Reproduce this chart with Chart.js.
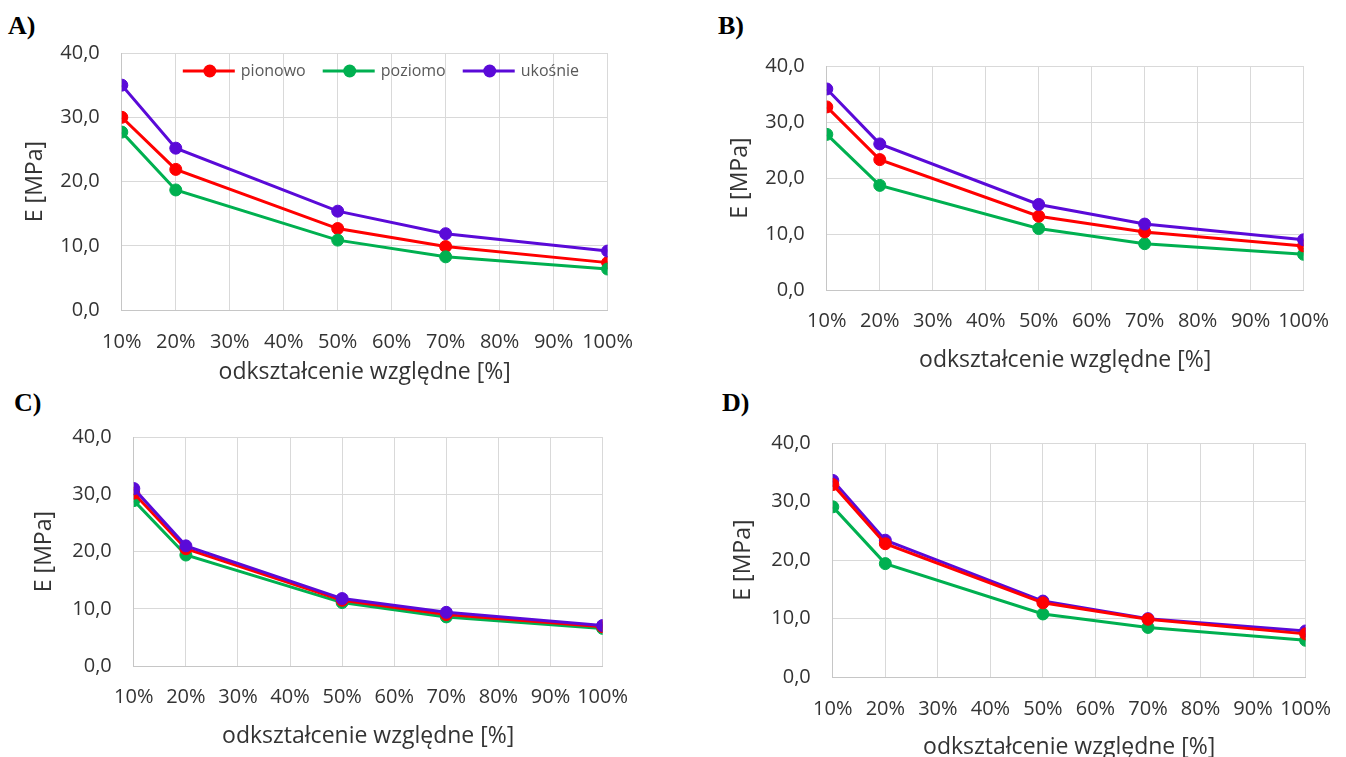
<!DOCTYPE html>
<html><head><meta charset="utf-8">
<script src="https://cdn.jsdelivr.net/npm/chart.js@4.4.1/dist/chart.umd.min.js"></script>
<style>
html,body{margin:0;padding:0;background:#fff;width:1346px;height:757px;overflow:hidden;position:relative;font-family:"Open Sans",sans-serif}
canvas{position:absolute}
.tag{position:absolute;font-family:"Liberation Serif",serif;font-weight:bold;font-size:26px;line-height:26px;color:#000}
</style></head><body>
<div class="tag" style="left:8px;top:13px">A)</div>
<div class="tag" style="left:718px;top:13px">B)</div>
<div class="tag" style="left:14px;top:390px">C)</div>
<div class="tag" style="left:722px;top:390px">D)</div>
<script>
// ---- data ----
const strain = [10, 20, 50, 70, 100];           // odkształcenie względne [%]
const seriesNames = ['pionowo', 'poziomo', 'ukośnie'];
const xTickValues = [10, 20, 30, 40, 50, 60, 70, 80, 90, 100];
const yTickValues = [0, 10, 20, 30, 40];
const xTitle = 'odkształcenie względne [%]';
const yTitle = 'E [MPa]';

const A_pionowo = [30.0, 21.9, 12.7, 9.9, 7.4];
const A_poziomo = [27.7, 18.7, 10.9, 8.3, 6.4];
const A_ukosnie = [35.0, 25.2, 15.4, 11.9, 9.2];

const B_pionowo = [32.7, 23.3, 13.2, 10.4, 7.9];
const B_poziomo = [27.8, 18.7, 11.0, 8.3, 6.4];
const B_ukosnie = [35.9, 26.1, 15.3, 11.8, 9.0];

const C_pionowo = [30.2, 20.5, 11.5, 9.0, 6.9];
const C_poziomo = [28.9, 19.4, 11.1, 8.6, 6.6];
const C_ukosnie = [31.0, 21.0, 11.8, 9.4, 7.1];

const D_pionowo = [32.9, 22.8, 12.7, 9.9, 7.4];
const D_poziomo = [29.1, 19.4, 10.8, 8.5, 6.3];
const D_ukosnie = [33.6, 23.4, 13.0, 10.0, 7.9];

// ---- styles ----
const colors = ['#ff0000', '#00b050', '#5a0ad8'];
const FONT = '"Open Sans", sans-serif';
const TITLE_SIZE = 23, TICK_SIZE = 20;

// panel geometry (plot area edges, title/tick centres)
const geom = {
  A: {L:122, R:608, T:53,  B:310, titleX:36,  ticksY:342, titleY:372},
  B: {L:827, R:1304, T:66, B:290, titleX:741, ticksY:321, titleY:360},
  C: {L:134, R:603, T:437, B:666, titleX:45,  ticksY:697, titleY:736},
  D: {L:833, R:1306, T:443, B:677, titleX:744, ticksY:709, titleY:747}
};

const legendPlugin = {
  id: 'lineLegend',
  afterDraw(chart, args, opts) {
    if (!opts.show) return;
    const ctx = chart.ctx, ca = chart.chartArea;
    ctx.save();
    ctx.font = '16px ' + FONT;
    ctx.textBaseline = 'middle';
    ctx.textAlign = 'left';
    let x = ca.left + 61;
    const y = ca.top + 18;
    chart.data.datasets.forEach((ds) => {
      ctx.strokeStyle = ds.borderColor;
      ctx.lineWidth = 3;
      ctx.beginPath(); ctx.moveTo(x, y); ctx.lineTo(x + 52, y); ctx.stroke();
      ctx.fillStyle = ds.borderColor;
      ctx.beginPath(); ctx.arc(x + 27, y, 6.5, 0, Math.PI * 2); ctx.fill();
      ctx.fillStyle = '#595959';
      ctx.fillText(ds.label, x + 58, y);
      x += 58 + ctx.measureText(ds.label).width + 17;
    });
    ctx.restore();
  }
};

function buildChart(canvas, g, values, orders, showLegend, Wy, Hx) {
  const datasets = values.map((v, i) => ({
    label: seriesNames[i],
    data: strain.map((s, j) => ({x: s, y: v[j]})),
    borderColor: colors[i],
    backgroundColor: colors[i],
    pointBackgroundColor: colors[i],
    pointBorderColor: colors[i],
    borderWidth: 3,
    pointRadius: 6,
    pointBorderWidth: 1,
    tension: 0,
    order: orders[i]
  }));
  return new Chart(canvas, {
    type: 'line',
    data: {datasets},
    plugins: [legendPlugin],
    options: {
      responsive: false,
      animation: false,
      devicePixelRatio: 1,
      layout: {padding: 0},
      plugins: {legend: {display: false}, tooltip: {enabled: false}, lineLegend: {show: showLegend}},
      scales: {
        x: {
          type: 'linear', min: 10, max: 100,
          afterBuildTicks: (s) => { s.ticks = xTickValues.map(v => ({value: v})); },
          afterFit: (s) => { s.height = Hx; },
          grid: {color: '#d9d9d9', lineWidth: 1, drawTicks: false},
          border: {color: '#c6c6c6', width: 1},
          ticks: {
            padding: g.ticksY - g.B - TICK_SIZE * 0.6,
            autoSkip: false, maxRotation: 0, minRotation: 0,
            color: '#333', font: {family: FONT, size: TICK_SIZE},
            callback: (v) => v + '%'
          },
          title: {display: true, text: xTitle, color: '#333', padding: 0, font: {family: FONT, size: TITLE_SIZE}}
        },
        y: {
          min: 0, max: 40,
          afterBuildTicks: (s) => { s.ticks = yTickValues.map(v => ({value: v})); },
          afterFit: (s) => { s.width = Wy; },
          grid: {color: '#d9d9d9', lineWidth: 1, drawTicks: false},
          border: {color: '#c6c6c6', width: 1},
          ticks: {
            padding: 22, color: '#333', font: {family: FONT, size: TICK_SIZE},
            callback: (v) => Number(v).toFixed(1).replace('.', ',')
          },
          title: {display: true, text: yTitle, color: '#333', padding: 0, font: {family: FONT, size: TITLE_SIZE}}
        }
      }
    }
  });
}

function makeChart(key, values, orders, showLegend) {
  const g = geom[key];
  const half = TITLE_SIZE * 1.2 / 2;
  const Wy = g.L - (g.titleX - half);
  const Hx = g.titleY + half - g.B;
  let left = Math.round(g.titleX - half), top = g.T - 15;
  let width = g.R - left + 30, height = g.B + Hx - top;
  const canvas = document.createElement('canvas');
  document.body.appendChild(canvas);
  let chart = null;
  for (let it = 0; it < 5; it++) {
    if (chart) { chart.destroy(); chart = null; }
    left = Math.round(left); top = Math.round(top);
    width = Math.round(width); height = Math.round(height);
    canvas.style.left = left + 'px';
    canvas.style.top = top + 'px';
    canvas.width = width; canvas.height = height;
    canvas.style.width = width + 'px'; canvas.style.height = height + 'px';
    chart = buildChart(canvas, g, values, orders, showLegend, Wy, Hx);
    const ca = chart.chartArea;
    const aL = left + ca.left, aR = left + ca.right;
    const aT = top + ca.top, aB = top + ca.bottom;
    if (Math.abs(aL - g.L) < 0.5 && Math.abs(aR - g.R) < 0.5 && Math.abs(aT - g.T) < 0.5 && Math.abs(aB - g.B) < 0.5) break;
    left -= (aL - g.L);
    width += (g.R - g.L) - (aR - aL);
    top -= (aT - g.T);
    height += (g.B - g.T) - (aB - aT);
  }
  return chart;
}

makeChart('A', [A_pionowo, A_poziomo, A_ukosnie], [2, 1, 0], true);
makeChart('B', [B_pionowo, B_poziomo, B_ukosnie], [1, 2, 0], false);
makeChart('C', [C_pionowo, C_poziomo, C_ukosnie], [1, 2, 0], false);
makeChart('D', [D_pionowo, D_poziomo, D_ukosnie], [0, 2, 1], false);
</script>
</body></html>
